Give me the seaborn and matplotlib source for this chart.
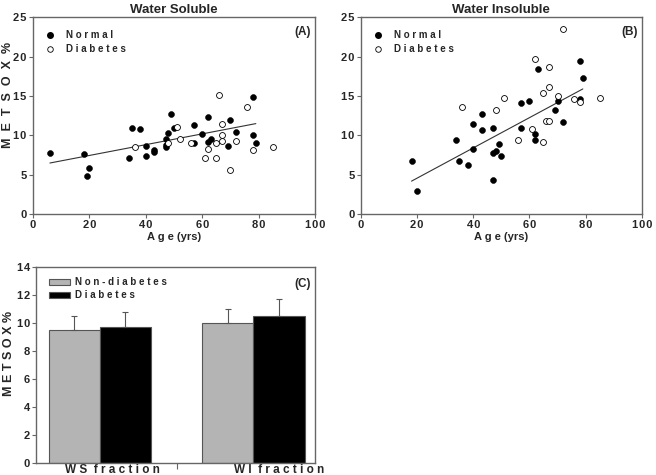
import numpy as np
import pandas as pd
import matplotlib
matplotlib.use('Agg')
import matplotlib.pyplot as plt
import seaborn as sns
from matplotlib.lines import Line2D
from matplotlib.patches import Patch

# ---------------- data ----------------
ws_normal_age = [6, 18, 19, 20, 34, 35, 38, 40, 40, 43, 43, 47, 47, 47, 48, 49, 50,
                 57, 57, 60, 62, 62, 63, 69, 70, 72, 78, 78, 79]
ws_normal_val = [7.8, 7.7, 4.8, 5.9, 7.1, 10.9, 10.8, 8.7, 7.4, 8.2, 7.9, 9.5, 8.8, 8.5,
                 10.3, 12.7, 11.0, 11.3, 9.0, 10.2, 12.3, 9.2, 9.5, 8.7, 11.9, 10.4,
                 14.9, 10.1, 9.0]
ws_diab_age = [36, 48, 51, 52, 56, 61, 62, 65, 65, 66, 67, 67, 67, 70, 72, 76, 78, 85]
ws_diab_val = [8.5, 9.0, 11.1, 9.6, 9.0, 7.1, 8.3, 9.1, 7.1, 15.1, 11.5, 10.1, 9.3,
               5.6, 9.3, 13.6, 8.1, 8.5]
ws_fit_age = [6, 79]
ws_fit_val = [6.5, 11.5]

wi_normal_age = [18, 20, 34, 35, 38, 40, 40, 43, 43, 47, 47, 47, 48, 49, 50, 57, 57,
                 60, 62, 62, 63, 69, 70, 72, 78, 78, 79]
wi_normal_val = [6.7, 3.0, 9.4, 6.8, 6.3, 8.3, 11.4, 12.7, 10.7, 10.9, 7.8, 4.4, 8.0,
                 8.9, 7.4, 14.1, 10.9, 14.4, 10.2, 9.4, 18.4, 13.2, 14.4, 11.7, 19.5,
                 14.6, 17.3]
wi_diab_age = [36, 48, 51, 56, 61, 62, 65, 65, 66, 67, 67, 67, 70, 72, 76, 78, 85]
wi_diab_val = [13.6, 13.2, 14.8, 9.4, 10.8, 19.7, 9.2, 15.4, 11.8, 11.8, 18.7, 16.2,
               15.0, 23.5, 14.6, 14.2, 14.8]
wi_fit_age = [18, 79]
wi_fit_val = [4.2, 15.9]

fractions = ['W S  f r a c t i o n', 'W I  f r a c t i o n']
groups = ['Non-diabetes', 'Diabetes']
mean_nondiab = [9.5, 10.0]
mean_diab = [9.7, 10.5]
err_nondiab = [1.0, 1.0]
err_diab = [1.1, 1.2]

scatter_yticks = [0, 5, 10, 15, 20, 25]
scatter_xticks = [0, 20, 40, 60, 80, 100]
bar_yticks = [0, 2, 4, 6, 8, 10, 12, 14]

# ---------------- style ----------------
sns.set_theme(style='white')
plt.rcParams['font.family'] = ['Liberation Sans', 'DejaVu Sans']
plt.rcParams['font.weight'] = 'bold'
plt.rcParams['axes.labelweight'] = 'bold'
plt.rcParams['axes.titleweight'] = 'bold'

SPINE = '#666666'
TS = '\u200a'


def spaced(s, sep=' '):
    return sep.join(s)


def num_labels(vals):
    return [TS.join(str(v)) for v in vals]


def style_axes(ax):
    for sp in ax.spines.values():
        sp.set_color(SPINE)
        sp.set_linewidth(1.0)
        sp.set_visible(True)
    ax.tick_params(axis='both', which='both', direction='out', length=3, width=0.8,
                   color=SPINE, labelsize=8, pad=1.5, bottom=True, left=True)


fig = plt.figure(figsize=(6.56, 4.75), dpi=100)
axA = fig.add_axes([0.0503, 0.549, 0.430, 0.4147])
axB = fig.add_axes([0.5503, 0.549, 0.428, 0.4147])
axC = fig.add_axes([0.0549, 0.0259, 0.425, 0.4126])


def scatter_panel(ax, na, nv, da, dv, fa, fv, title, tag, ylab):
    dn = pd.DataFrame({'age': na, 'val': nv})
    dd = pd.DataFrame({'age': da, 'val': dv})
    sns.scatterplot(data=dn, x='age', y='val', ax=ax, s=18, color='black',
                    edgecolor='black', linewidth=0.4, legend=False, zorder=3)
    sns.scatterplot(data=dd, x='age', y='val', ax=ax, s=18, color='white',
                    edgecolor='black', linewidth=0.6, legend=False, zorder=3)
    sns.lineplot(x=fa, y=fv, ax=ax, color='#333333', linewidth=0.8, zorder=2)
    ax.set_xlim(0, 100)
    ax.set_ylim(0, 25)
    ax.set_xticks(scatter_xticks)
    ax.set_xticklabels(num_labels(scatter_xticks))
    ax.set_yticks(scatter_yticks)
    ax.set_yticklabels(num_labels(scatter_yticks))
    style_axes(ax)
    ax.set_title(title, fontsize=9.5, fontweight='bold', pad=3)
    ax.set_xlabel(spaced('Age') + ' (yrs)', fontsize=8, labelpad=1)
    if ylab:
        ax.set_ylabel(spaced('METSOX', '  ') + '  %', fontsize=9)
        ax.yaxis.set_label_coords(-0.068, 0.605)
    else:
        ax.set_ylabel('')
    ax.text(0.985, 0.925, tag, transform=ax.transAxes, ha='right', va='center',
            fontsize=8.5, fontweight='bold')
    handles = [Line2D([], [], marker='o', linestyle='none', markersize=4,
                      markerfacecolor='black', markeredgecolor='black'),
               Line2D([], [], marker='o', linestyle='none', markersize=4,
                      markerfacecolor='white', markeredgecolor='black', markeredgewidth=0.6)]
    ax.legend(handles, [spaced('Normal'), spaced('Diabetes')], loc='upper left',
              bbox_to_anchor=(0.0, 0.975), frameon=False, fontsize=7,
              handletextpad=0.6, labelspacing=0.45, borderaxespad=0.4)


scatter_panel(axA, ws_normal_age, ws_normal_val, ws_diab_age, ws_diab_val,
              ws_fit_age, ws_fit_val, 'Water Soluble', '(A)', True)
scatter_panel(axB, wi_normal_age, wi_normal_val, wi_diab_age, wi_diab_val,
              wi_fit_age, wi_fit_val, 'Water Insoluble', '(B)', False)

# ---------------- bar panel ----------------
bar_df = pd.DataFrame({
    'fraction': fractions * 2,
    'group': [groups[0]] * 2 + [groups[1]] * 2,
    'value': mean_nondiab + mean_diab,
})
palette = {groups[0]: '#b4b4b4', groups[1]: '#000000'}
sns.barplot(data=bar_df, x='fraction', y='value', hue='group', order=fractions,
            hue_order=groups, palette=palette, width=0.667, errorbar=None,
            edgecolor='#555555', linewidth=0.8, saturation=1, legend=False, ax=axC)

bars = sorted([p for p in axC.patches if p.get_height() > 0], key=lambda p: p.get_x())
errs = [err_nondiab[0], err_diab[0], err_nondiab[1], err_diab[1]]
xs = [p.get_x() + p.get_width() / 2 for p in bars]
hs = [p.get_height() for p in bars]
axC.errorbar(xs, hs, yerr=[[0] * len(errs), errs], fmt='none', ecolor='#555555',
             elinewidth=0.8, capsize=2.5, capthick=0.8, zorder=1)

axC.set_xlim(-0.416, 1.40)
axC.set_ylim(0, 14)
axC.set_yticks(bar_yticks)
axC.set_yticklabels(num_labels(bar_yticks))
style_axes(axC)
axC.set_xticks([0.08, 1.17])
axC.set_xticklabels(fractions, fontsize=8.5)
axC.tick_params(axis='x', which='major', length=0, pad=1)
axC.set_xticks([0.5], minor=True)
axC.tick_params(axis='x', which='minor', length=4, direction='out', color=SPINE)
axC.set_xlabel('')
axC.set_ylabel(spaced('METSOX') + ' %', fontsize=9)
axC.yaxis.set_label_coords(-0.075, 0.555)
axC.text(0.985, 0.91, '(C)', transform=axC.transAxes, ha='right', va='center',
         fontsize=8.5, fontweight='bold')
leg_handles = [Patch(facecolor='#b4b4b4', edgecolor='#555555', linewidth=0.8),
               Patch(facecolor='black', edgecolor='#555555', linewidth=0.8)]
axC.legend(leg_handles, [spaced('Non-diabetes'), spaced('Diabetes')], loc='upper left',
           bbox_to_anchor=(0.02, 0.985), frameon=False, fontsize=7,
           handlelength=2.1, handleheight=0.7, handletextpad=0.5, labelspacing=0.3,
           borderaxespad=0.4)

fig.savefig('out.png', dpi=100)
